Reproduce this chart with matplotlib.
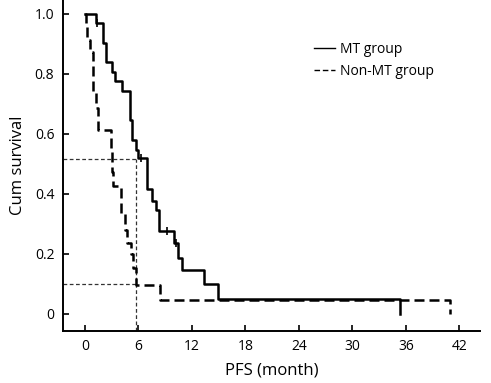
import matplotlib
matplotlib.use("Agg")
import matplotlib.pyplot as plt

# Kaplan-Meier step data (months, survival after step)
mt_time = [0, 1.2, 2.0, 2.3, 3.0, 3.4, 4.2, 5.1, 5.3, 5.7, 6.0, 7.0, 7.5, 8.0, 8.3,
           10.0, 10.4, 10.9, 13.3, 14.9, 35.3]
mt_surv = [1.0, 0.970, 0.901, 0.840, 0.807, 0.774, 0.742, 0.645, 0.579, 0.545, 0.518,
           0.415, 0.377, 0.346, 0.277, 0.235, 0.187, 0.146, 0.100, 0.049, 0.0]
mt_censor_t = [1.4, 6.3, 9.2, 10.2]
mt_censor_s = [0.970, 0.518, 0.277, 0.235]

non_time = [0, 0.15, 0.25, 0.6, 0.9, 1.2, 1.5, 2.9, 3.0, 3.1, 4.0, 4.5, 4.7, 5.2, 5.35,
            5.7, 8.4, 40.9]
non_surv = [1.0, 0.956, 0.913, 0.873, 0.743, 0.685, 0.612, 0.55, 0.472, 0.427, 0.336,
            0.28, 0.236, 0.199, 0.153, 0.095, 0.047, 0.0]

ref_time = 5.7
ref_levels = [0.516, 0.099]

x_ticks = [0, 6, 12, 18, 24, 30, 36, 42]
y_ticks = [0, 0.2, 0.4, 0.6, 0.8, 1.0]
y_ticklabels = ["0", "0.2", "0.4", "0.6", "0.8", "1.0"]

plt.rcParams["font.family"] = ["Open Sans", "DejaVu Sans"]

fig = plt.figure(figsize=(4.91, 3.83), dpi=100)
ax = fig.add_axes([62.7 / 491, 52.3 / 383, (480 - 62.7) / 491, 330.7 / 383])

xmin, xmax = -2.5, 44.3
ymin, ymax = -0.0556, 1.045

# reference lines (median / 10% level)
for lvl in ref_levels:
    ax.plot([xmin, ref_time], [lvl, lvl], color="#333333", lw=0.9,
            ls=(0, (3, 2)))
ax.plot([ref_time, ref_time], [ymin, ref_levels[0]], color="#333333", lw=0.9,
        ls=(0, (3, 2)))

ax.step(mt_time, mt_surv, where="post", color="black", lw=1.8, label="MT group")
ax.step(non_time, non_surv, where="post", color="black", lw=1.8,
        ls=(0, (4, 2)), label="Non-MT group")
ax.plot(mt_censor_t, mt_censor_s, ls="none", marker="|", color="black",
        markersize=6, mew=1.2)

ax.set_xlim(xmin, xmax)
ax.set_ylim(ymin, ymax)
ax.set_xticks(x_ticks)
ax.set_yticks(y_ticks)
ax.set_yticklabels(y_ticklabels)
ax.tick_params(direction="in", length=4, width=1.2, labelsize=10, pad=6)
for side in ("top", "right"):
    ax.spines[side].set_visible(False)
for side in ("left", "bottom"):
    ax.spines[side].set_linewidth(1.4)

ax.set_xlabel("PFS (month)", fontsize=12, labelpad=6)
ax.set_ylabel("Cum survival", fontsize=12, labelpad=6)

leg = ax.legend(loc="upper left", bbox_to_anchor=(0.573, 0.91), frameon=False,
                fontsize=10, handlelength=1.5, handletextpad=0.35,
                labelspacing=0.45)
for line in leg.get_lines():
    line.set_linewidth(1.0)

fig.savefig("out.png", dpi=100)
